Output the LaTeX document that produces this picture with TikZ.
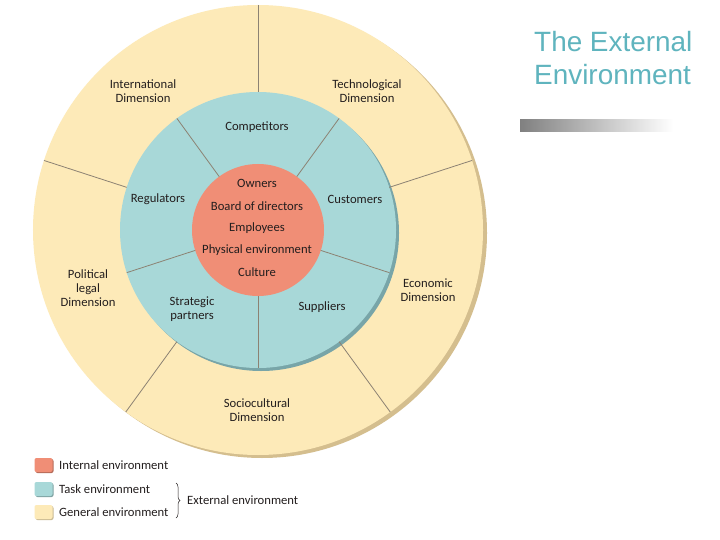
\documentclass[tikz,border=0pt]{standalone}
\usepackage{fontspec}
\setmainfont{Carlito}
\newfontfamily\titlefont{Liberation Sans}
\usetikzlibrary{decorations.pathreplacing,calc}
\definecolor{genyellow}{RGB}{253,234,184}
\definecolor{genshadow}{RGB}{212,190,142}
\definecolor{taskteal}{RGB}{168,216,216}
\definecolor{taskshadow}{RGB}{120,165,168}
\definecolor{intsalmon}{RGB}{240,142,118}
\definecolor{divline}{RGB}{140,130,115}
\definecolor{titleteal}{RGB}{95,180,190}
\definecolor{txt}{RGB}{35,30,30}
\begin{document}
\begin{tikzpicture}[x=1bp,y=-1bp,
  lbl/.style={font=\fontsize{12.7}{14}\selectfont, text=txt, align=center, inner sep=0pt},
  divider/.style={draw=divline, line width=0.8bp},
  legbox/.style={rounded corners=2bp, minimum width=18bp, minimum height=14bp, inner sep=0pt},
  legtext/.style={font=\fontsize{12.7}{14}\selectfont, text=txt, anchor=west, inner sep=0pt}]
\useasboundingbox (0,0) rectangle (720,540);
\fill[white] (0,0) rectangle (720,540);
\coordinate (c) at (258,230);
% general environment
\fill[genshadow] (262,233) circle[radius=225bp];
\fill[genyellow] (c) circle[radius=225bp];
% task environment
\fill[taskshadow] (261,233) circle[radius=138bp];
\fill[taskteal] (c) circle[radius=138bp];
% internal environment
\fill[intsalmon] (c) circle[radius=66bp];
% dividers
\foreach \a in {54,126,198,270,342}
  \draw[divider] ($(c)+(\a:66bp)$) -- ($(c)+(\a:138bp)$);
\foreach \a in {18,90,162,234,306}
  \draw[divider] ($(c)+(\a:138bp)$) -- ($(c)+(\a:225bp)$);
% labels
\node[lbl] (intl) at (143,91) {International\\Dimension};
\node[lbl] (tech) at (367,91) {Technological\\Dimension};
\node[lbl] (pol) at (88,288) {Political\\legal\\Dimension};
\node[lbl] (econ) at (428,290) {Economic\\Dimension};
\node[lbl] (socio) at (257,410) {Sociocultural\\Dimension};
\node[lbl] (comp) at (257,127) {Competitors};
\node[lbl] (reg) at (158,199) {Regulators};
\node[lbl] (cust) at (355,199) {Customers};
\node[lbl] (strat) at (192,309) {Strategic\\partners};
\node[lbl] (supp) at (322,307) {Suppliers};
\node[lbl] (own) at (257,183) {Owners};
\node[lbl] (board) at (257,206) {Board of directors};
\node[lbl] (emp) at (257,228) {Employees};
\node[lbl] (phys) at (257,250) {Physical environment};
\node[lbl] (cult) at (257,272) {Culture};
% legend
\node[legbox, fill=intsalmon!75!black] at (44.5,466) {};
\node[legbox, fill=intsalmon] (k1) at (43.5,465) {};
\node[legbox, fill=taskteal!75!black] at (44.5,490) {};
\node[legbox, fill=taskteal] (k2) at (43.5,489) {};
\node[legbox, fill=genyellow!80!black] at (44.5,513) {};
\node[legbox, fill=genyellow] (k3) at (43.5,512) {};
\node[legtext] (t1) at (59,465) {Internal environment};
\node[legtext] (t2) at (59,489) {Task environment};
\node[legtext] (t3) at (59,512) {General environment};
\coordinate (bt) at (176,483);
\coordinate (bb) at (176,518);
\draw[txt, line width=0.5bp, decorate, decoration={brace, amplitude=4bp}] (bt) -- (bb);
\node[legtext] (ext) at (187,500) {External environment};
% title
\node[anchor=base west, inner sep=0pt, font=\titlefont\fontsize{28}{33}\selectfont, text=titleteal] (title1) at (534,52) {The External};
\node[anchor=base west, inner sep=0pt, font=\titlefont\fontsize{28}{33}\selectfont, text=titleteal] (title2) at (534,85) {Environment};
\shade[left color={rgb,255:red,128;green,128;blue,128}, right color=white] (520,120) rectangle (673,132);
\end{tikzpicture}
\end{document}
